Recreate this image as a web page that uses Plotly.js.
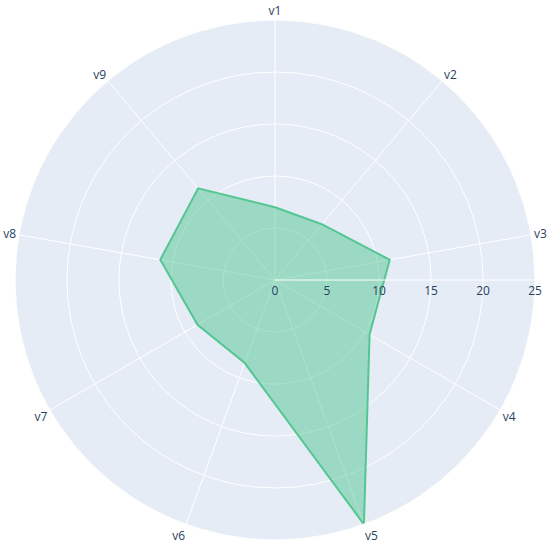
<!DOCTYPE html>
<html>
<head>
<meta charset="utf-8">
<script src="https://cdn.plot.ly/plotly-3.0.1.min.js"></script>
<style>
  html, body { margin: 0; padding: 0; }
  #chart { width: 550px; height: 550px; }
</style>
</head>
<body>
<div id="chart"></div>
<script>
const categories = ["v1", "v2", "v3", "v4", "v5", "v6", "v7", "v8", "v9"];
const values = [7, 7, 11.2, 10.5, 25, 8.5, 8.6, 11.2, 11.5];

// close the polygon by repeating the first point
const r = values.concat([values[0]]);
const theta = categories.concat([categories[0]]);

Plotly.newPlot('chart', [{
  type: 'scatterpolar',
  r: r,
  theta: theta,
  mode: 'lines',
  fill: 'toself',
  line: { color: 'rgb(84,198,146)', width: 2 },
  fillcolor: 'rgba(84,198,146,0.5)'
}], {
  width: 550,
  height: 550,
  margin: { l: 15, r: 15, t: 20, b: 10 },
  showlegend: false,
  paper_bgcolor: 'white',
  font: { family: '"Open Sans", verdana, arial, sans-serif', size: 12, color: '#2a3f5f' },
  polar: {
    bgcolor: '#E5ECF6',
    radialaxis: {
      range: [0, 25],
      tickvals: [0, 5, 10, 15, 20, 25],
      gridcolor: 'white',
      linecolor: 'white',
      ticks: ''
    },
    angularaxis: {
      rotation: 90,
      direction: 'clockwise',
      gridcolor: 'white',
      linecolor: 'white',
      ticks: ''
    }
  }
}, { displayModeBar: false });
</script>
</body>
</html>
